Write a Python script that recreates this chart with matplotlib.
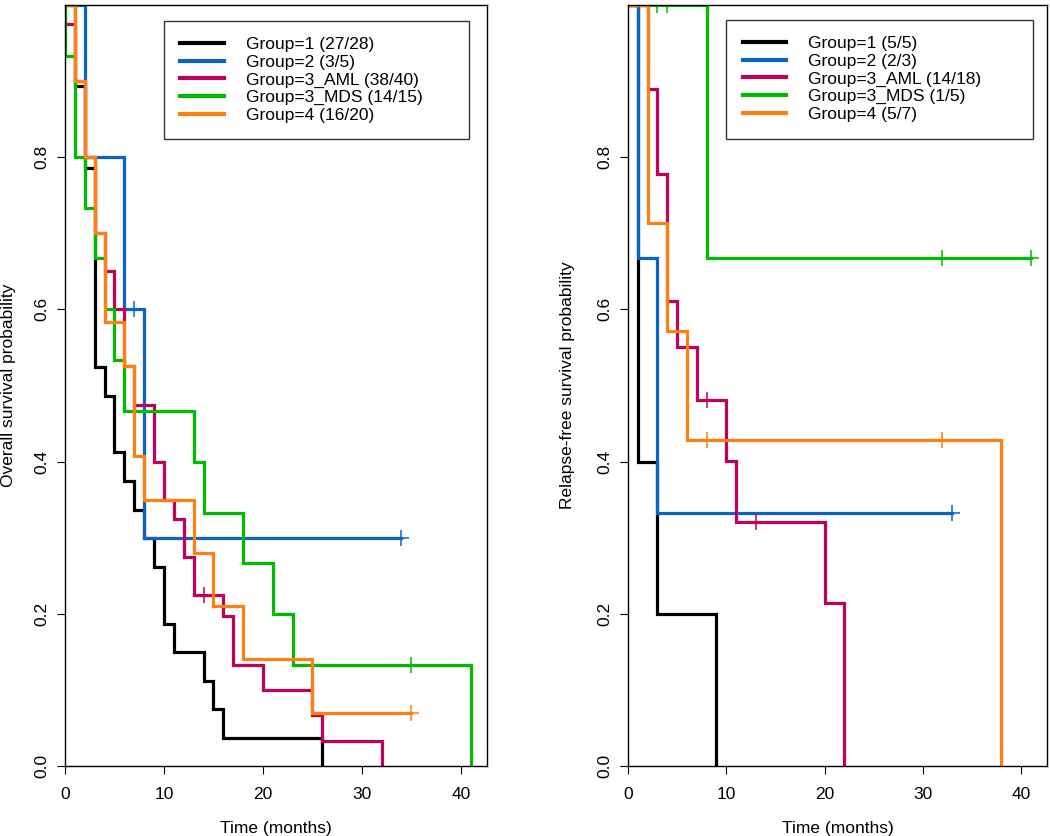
import numpy as np
import matplotlib.pyplot as plt

plt.rcParams["font.family"] = ["Liberation Sans", "DejaVu Sans"]

colors = ["#000000", "#0a64c8", "#c0005c", "#00bb00", "#ff8010"]

# overall survival (left)
os_g1_t = [0, 1, 2, 3, 4, 5, 6, 7, 8, 9, 10, 11, 14, 15, 16, 26]
os_g1_s = [1.0, 0.893, 0.786, 0.524, 0.486, 0.412, 0.374, 0.337, 0.299, 0.262, 0.187, 0.150, 0.112, 0.075, 0.037, 0.0]
os_g1_c = []
os_g2_t = [0, 2, 6, 8, 34]
os_g2_s = [1.0, 0.8, 0.6, 0.3, 0.3]
os_g2_c = [7, 34]
os_g3a_t = [0, 0, 1, 2, 3, 4, 5, 6, 7, 9, 10, 11, 12, 13, 16, 17, 20, 25, 26, 32]
os_g3a_s = [1.0, 0.975, 0.9, 0.8, 0.7, 0.65, 0.6, 0.525, 0.475, 0.4, 0.35, 0.325, 0.275, 0.225, 0.197, 0.133, 0.100, 0.067, 0.033, 0.0]
os_g3a_c = [14]
os_g3m_t = [0, 0, 1, 2, 3, 4, 5, 6, 13, 14, 18, 21, 23, 41]
os_g3m_s = [1.0, 0.933, 0.8, 0.733, 0.667, 0.6, 0.533, 0.467, 0.4, 0.333, 0.267, 0.2, 0.133, 0.0]
os_g3m_c = [35]
os_g4_t = [0, 1, 2, 3, 4, 6, 7, 8, 13, 15, 18, 25, 35]
os_g4_s = [1.0, 0.9, 0.8, 0.7, 0.583, 0.525, 0.408, 0.35, 0.28, 0.21, 0.14, 0.07, 0.07]
os_g4_c = [35]
os_labels = ["Group=1 (27/28)", "Group=2 (3/5)", "Group=3_AML (38/40)",
             "Group=3_MDS (14/15)", "Group=4 (16/20)"]

# relapse-free survival (right)
rfs_g1_t = [0, 1, 3, 9]
rfs_g1_s = [1.0, 0.4, 0.2, 0.0]
rfs_g1_c = []
rfs_g2_t = [0, 1, 3, 33]
rfs_g2_s = [1.0, 0.667, 0.333, 0.333]
rfs_g2_c = [33]
rfs_g3a_t = [0, 2, 3, 4, 5, 7, 10, 11, 20, 22]
rfs_g3a_s = [1.0, 0.889, 0.778, 0.611, 0.55, 0.481, 0.401, 0.321, 0.214, 0.0]
rfs_g3a_c = [8, 13]
rfs_g3m_t = [0, 8, 41]
rfs_g3m_s = [1.0, 0.667, 0.667]
rfs_g3m_c = [3, 4, 32, 41]
rfs_g4_t = [0, 2, 4, 6, 38]
rfs_g4_s = [1.0, 0.714, 0.571, 0.429, 0.0]
rfs_g4_c = [8, 32]
rfs_labels = ["Group=1 (5/5)", "Group=2 (2/3)", "Group=3_AML (14/18)",
              "Group=3_MDS (1/5)", "Group=4 (5/7)"]

fs = 12.5


def km_panel(ax, curves, labels, ylabel, ylab_x, leg_box):
    for (t, s, c), col, lab in zip(curves, colors, labels):
        t = np.asarray(t, float)
        s = np.asarray(s, float)
        ax.step(t, s, where="post", color=col, lw=2.3, label=lab,
                solid_joinstyle="miter")
        if c:
            idx = np.searchsorted(t, c, side="right") - 1
            ax.plot(c, s[idx], ls="none", marker="+", ms=11, mew=1.1, color=col)
    ax.set_xlim(0, 42.64)
    ax.set_ylim(0, 1)
    ax.set_xticks([0, 10, 20, 30, 40])
    ax.set_yticks([0, 0.2, 0.4, 0.6, 0.8])
    ax.set_yticklabels(["0.0", "0.2", "0.4", "0.6", "0.8"], rotation=90, va="center")
    ax.tick_params(direction="out", length=5.5, width=0.8, labelsize=fs)
    ax.tick_params(axis="x", pad=9.5)
    ax.tick_params(axis="y", pad=5.5)
    for sp in ax.spines.values():
        sp.set_linewidth(1.0)
    ax.set_xlabel("Time (months)", fontsize=fs, labelpad=14)
    ax.set_ylabel(ylabel, fontsize=fs)
    ax.yaxis.set_label_coords(ylab_x, 0.5)
    leg = ax.legend(loc="upper left", bbox_to_anchor=leg_box, mode="expand",
                    fontsize=fs, frameon=True, fancybox=False, edgecolor="black",
                    handlelength=2.5, handletextpad=1.27, labelspacing=0.14,
                    borderpad=0.95, borderaxespad=0)
    leg.get_frame().set_linewidth(1.0)
    for ln in leg.get_lines():
        ln.set_linewidth(3.0)


fig = plt.figure(figsize=(10.5, 8.36), dpi=100)
ax1 = fig.add_axes([65 / 1050, 1 - 766 / 836, 422 / 1050, 761 / 836])
ax2 = fig.add_axes([628 / 1050, 1 - 766 / 836, 419 / 1050, 761 / 836])

km_panel(ax1,
         [(os_g1_t, os_g1_s, os_g1_c), (os_g2_t, os_g2_s, os_g2_c),
          (os_g3a_t, os_g3a_s, os_g3a_c), (os_g3m_t, os_g3m_s, os_g3m_c),
          (os_g4_t, os_g4_s, os_g4_c)],
         os_labels, "Overall survival probability", -0.116,
         (0.2346, 0.0, 0.7227, 0.9794))
km_panel(ax2,
         [(rfs_g1_t, rfs_g1_s, rfs_g1_c), (rfs_g2_t, rfs_g2_s, rfs_g2_c),
          (rfs_g3a_t, rfs_g3a_s, rfs_g3a_c), (rfs_g3m_t, rfs_g3m_s, rfs_g3m_c),
          (rfs_g4_t, rfs_g4_s, rfs_g4_c)],
         rfs_labels, "Relapse-free survival probability", -0.1265,
         (0.234, 0.0, 0.7327, 0.9806))

fig.savefig("out.png", dpi=100)
